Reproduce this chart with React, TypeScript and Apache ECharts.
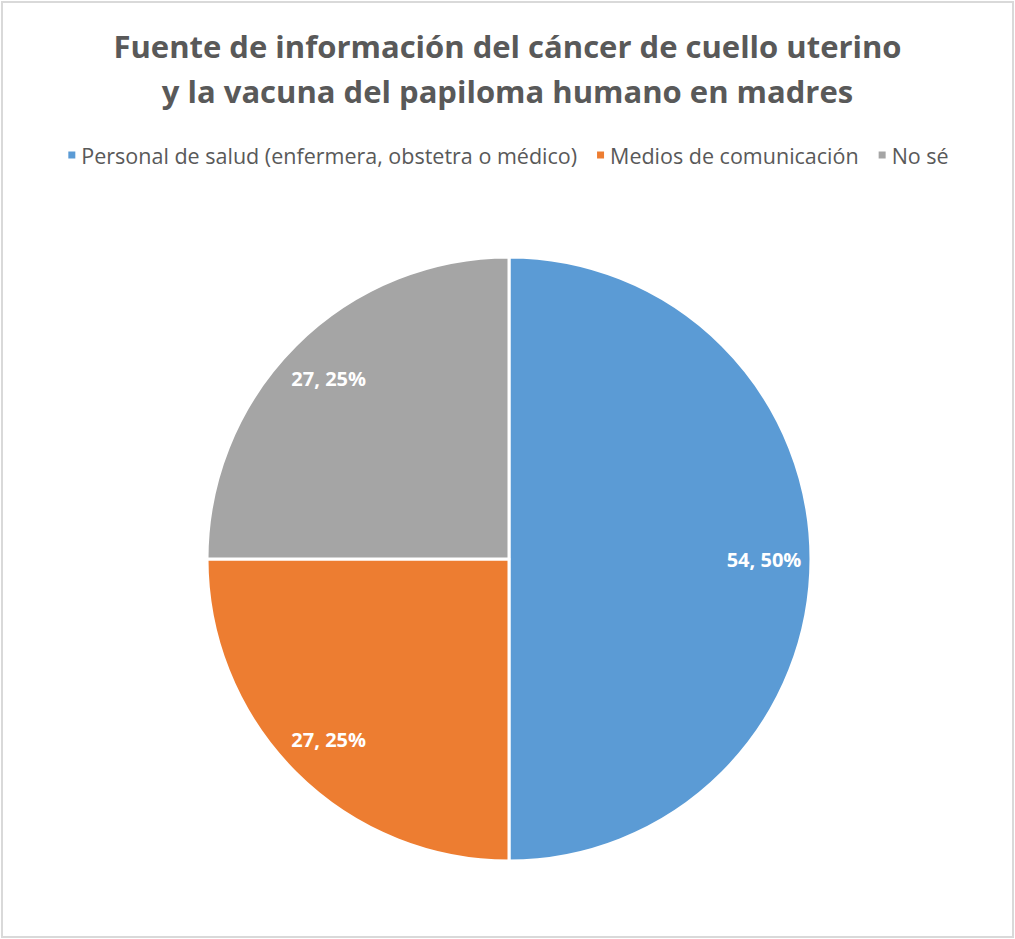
import React, { useEffect, useRef } from "react";
import * as echarts from "echarts";

const categories = [
  "Personal de salud (enfermera, obstetra o médico)",
  "Medios de comunicación",
  "No sé",
];
const values = [54, 27, 27];
const colors = ["#5B9BD5", "#ED7D31", "#A5A5A5"];
const titleLines = [
  "Fuente de información del cáncer de cuello uterino",
  "y la vacuna del papiloma humano en madres",
];

export default function App() {
  const ref = useRef<HTMLDivElement>(null);
  useEffect(() => {
    document.body.style.margin = "0";
    const chart = echarts.init(ref.current!, undefined, { renderer: "svg" });
    const data = categories.map((name, i) => ({
      name,
      value: values[i],
      itemStyle: { color: colors[i] },
    }));
    chart.setOption({
      animation: false,
      backgroundColor: "#ffffff",
      textStyle: { fontFamily: "Open Sans" },
      title: {
        text: titleLines.join("\n"),
        left: "center",
        top: 18,
        textStyle: {
          fontFamily: "Open Sans",
          fontSize: 31,
          fontWeight: "bold",
          color: "#595959",
          lineHeight: 45,
        },
      },
      legend: {
        data: categories,
        left: "center",
        top: 139,
        icon: "rect",
        itemWidth: 9,
        itemHeight: 9,
        itemGap: 18,
        textStyle: { fontFamily: "Open Sans", fontSize: 21.5, color: "#595959" },
      },
      graphic: [
        {
          type: "rect",
          shape: { x: 2, y: 2, width: 1011, height: 935 },
          style: { fill: "none", stroke: "#D9D9D9", lineWidth: 2 },
          silent: true,
        },
      ],
      series: [
        {
          type: "pie",
          center: [509, 559],
          radius: 302,
          startAngle: 90,
          clockwise: true,
          label: { show: false },
          labelLine: { show: false },
          itemStyle: { borderColor: "#ffffff", borderWidth: 3 },
          emphasis: { disabled: true },
          data,
        },
        {
          type: "pie",
          center: [509, 559],
          radius: [202, 302],
          startAngle: 90,
          clockwise: true,
          silent: true,
          itemStyle: { color: "transparent", borderWidth: 0 },
          label: {
            show: true,
            position: "inside",
            color: "#ffffff",
            fontFamily: "Open Sans",
            fontWeight: "bold",
            fontSize: 20,
            formatter: (p: any) => `${p.value}, ${Math.round(p.percent)}%`,
          },
          labelLine: { show: false },
          emphasis: { disabled: true },
          data: categories.map((name, i) => ({
            name,
            value: values[i],
            itemStyle: { color: "transparent" },
          })),
        },
      ],
    });
    return () => chart.dispose();
  }, []);
  return <div ref={ref} style={{ width: 1015, height: 939 }} />;
}
